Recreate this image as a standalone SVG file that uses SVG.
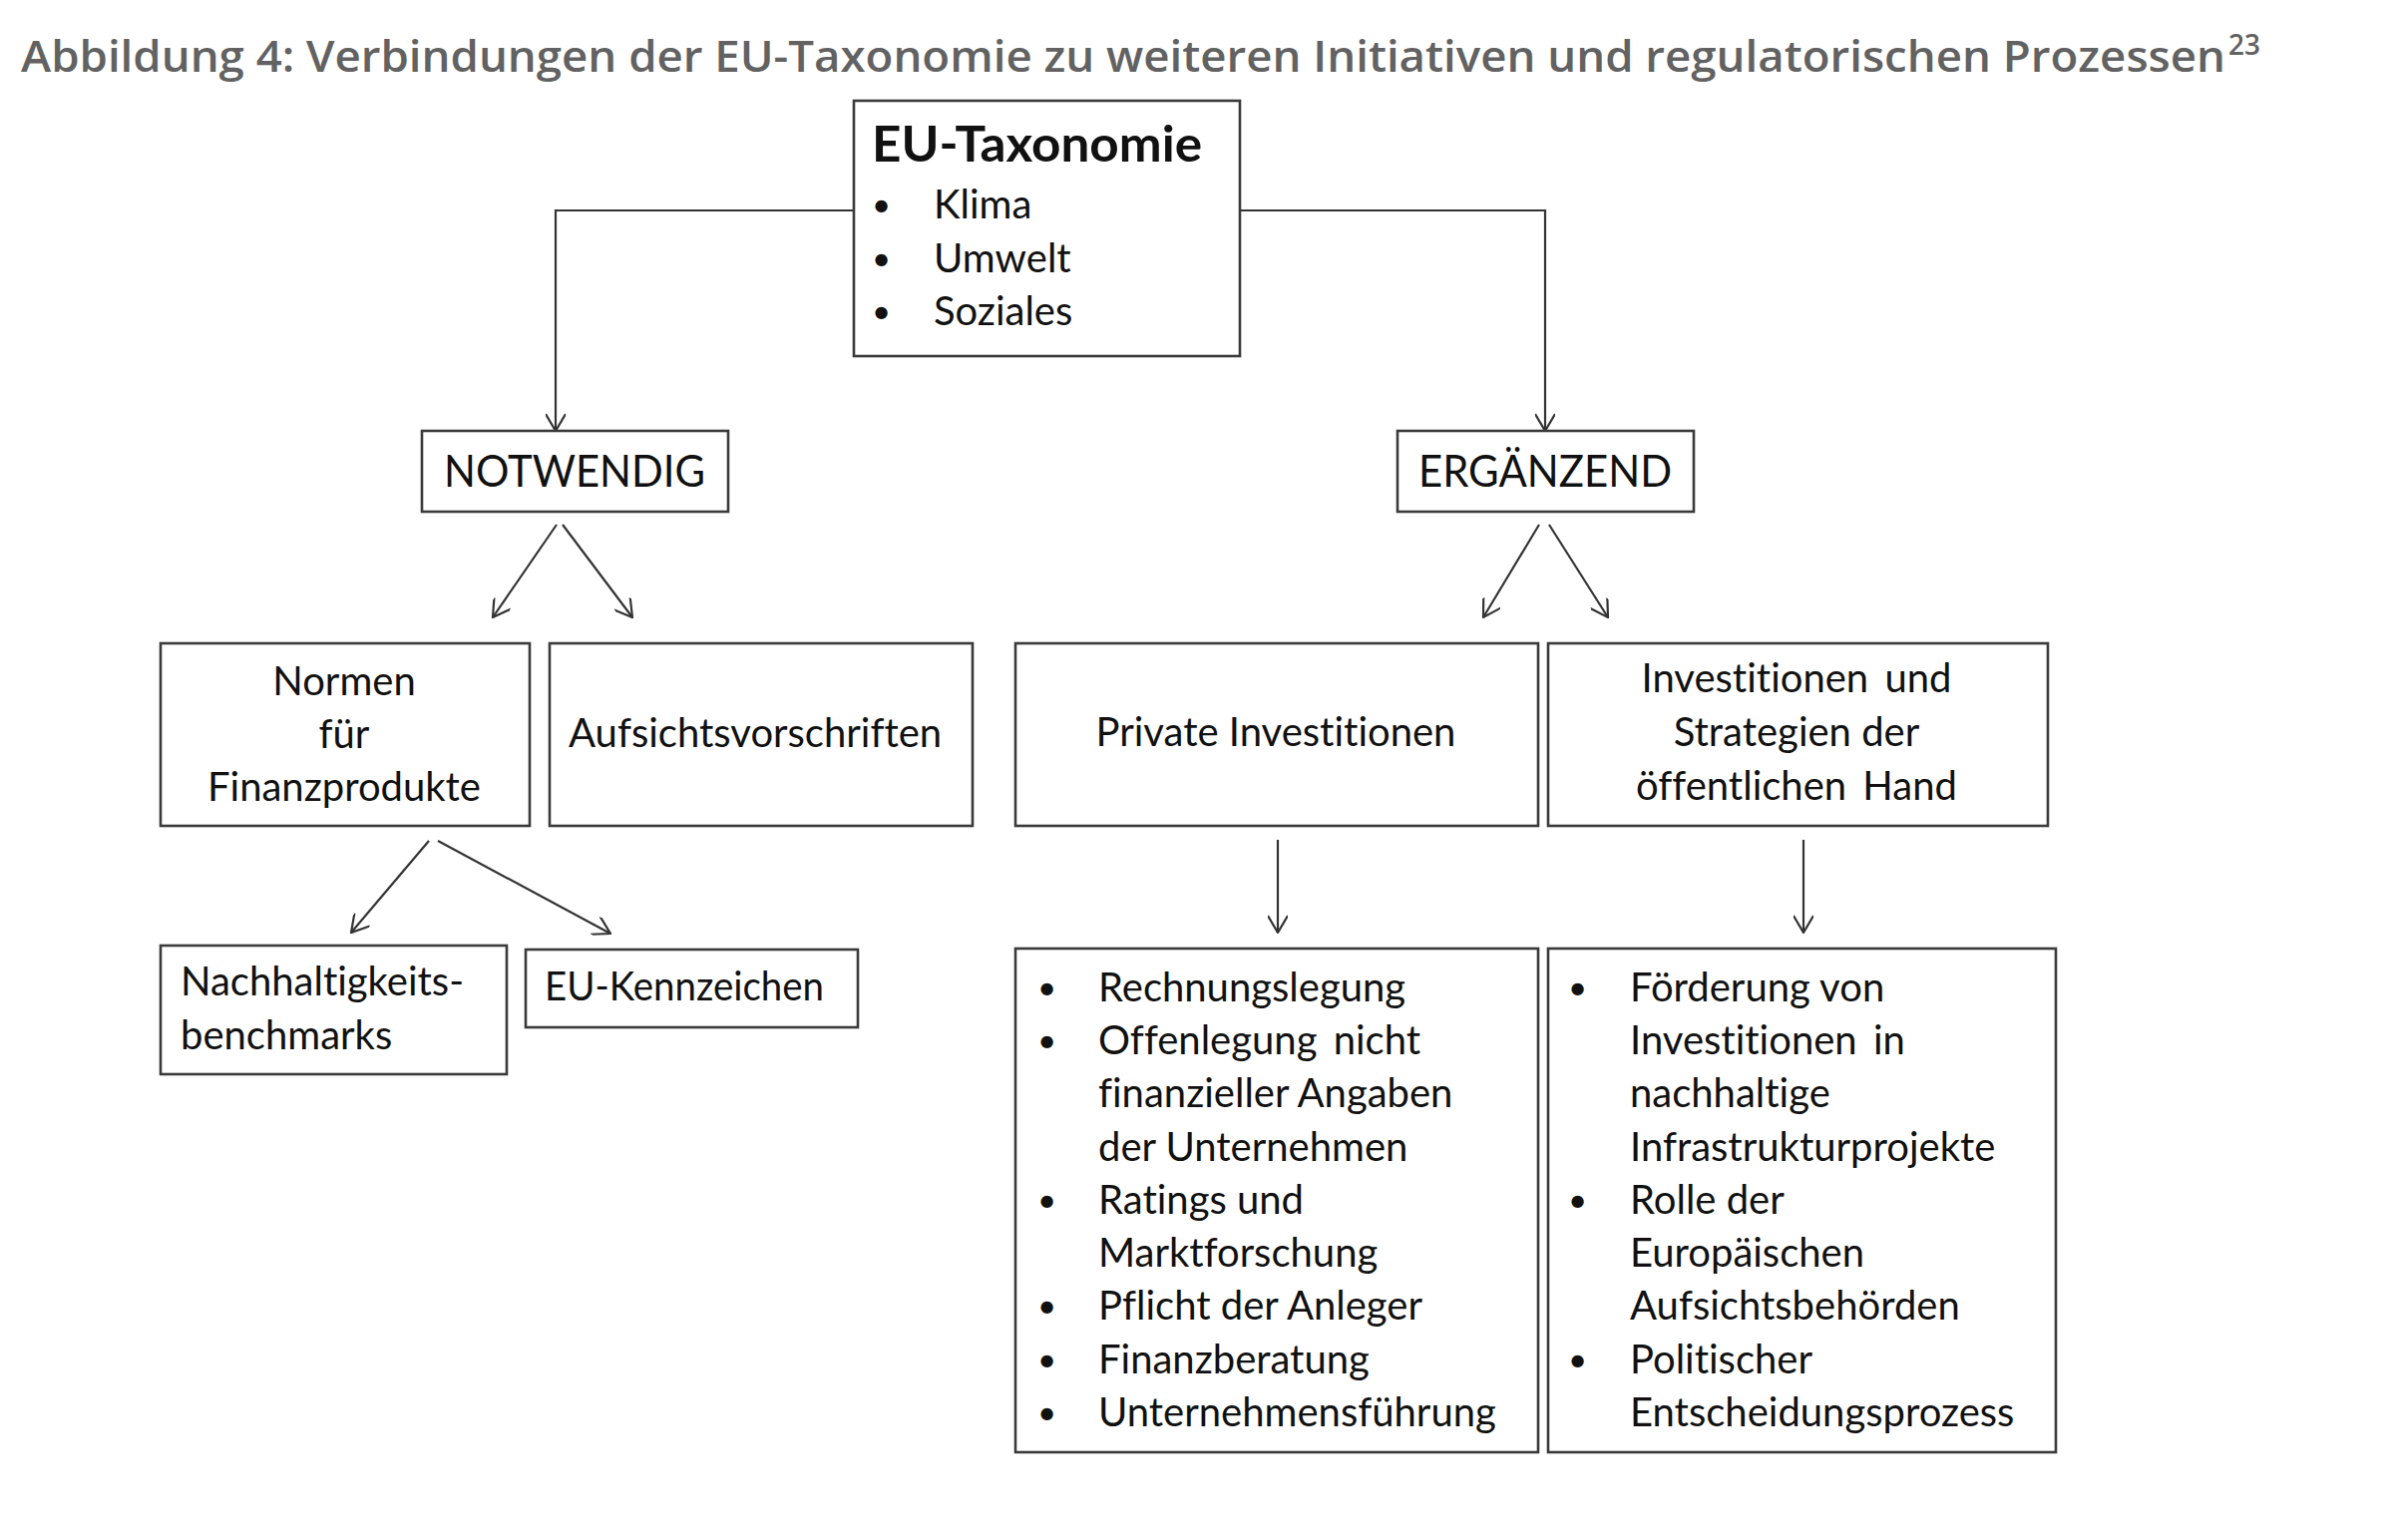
<svg xmlns="http://www.w3.org/2000/svg" width="2400" height="1544" viewBox="0 0 2400 1544">
<style>
.box{fill:#fff;stroke:#3a3a3a;stroke-width:2.6}
.t{font-family:Lato,"Open Sans","Liberation Sans",sans-serif;font-size:40px;fill:#111;font-variant-ligatures:none}
.b{font-family:Lato,"Open Sans","Liberation Sans",sans-serif;font-size:33px;fill:#111}
.c{text-anchor:middle}
.cap{font-size:45px}
.conn{fill:none;stroke:#333;stroke-width:2.2}
.title{font-family:"Open Sans","Liberation Sans",sans-serif;font-weight:600;font-size:44px;fill:#626262}
</style>
<defs>
<marker id="arr" viewBox="0 0 20 20" refX="19" refY="10" markerWidth="20" markerHeight="20" markerUnits="userSpaceOnUse" orient="auto">
<path d="M2,0 L19,10 L2,20" fill="none" stroke="#333" stroke-width="2.2"/>
</marker>
</defs>
<rect width="2400" height="1544" fill="#fff"/>
<text class="title" x="21" y="72" textLength="2210" lengthAdjust="spacingAndGlyphs">Abbildung 4: Verbindungen der EU-Taxonomie zu weiteren Initiativen und regulatorischen Prozessen</text>
<text class="title" x="2234" y="55" style="font-size:28px">23</text>

<g id="connectors">
<polyline class="conn" points="856,211 557,211 557,432" marker-end="url(#arr)"/>
<polyline class="conn" points="1243,211 1549,211 1549,432" marker-end="url(#arr)"/>
<line class="conn" x1="558" y1="526" x2="494" y2="619" marker-end="url(#arr)"/>
<line class="conn" x1="564" y1="526" x2="634" y2="619" marker-end="url(#arr)"/>
<line class="conn" x1="1543" y1="526" x2="1487" y2="619" marker-end="url(#arr)"/>
<line class="conn" x1="1553" y1="526" x2="1612" y2="619" marker-end="url(#arr)"/>
<line class="conn" x1="430" y1="843" x2="352" y2="935" marker-end="url(#arr)"/>
<line class="conn" x1="439" y1="843" x2="612" y2="936" marker-end="url(#arr)"/>
<line class="conn" x1="1281" y1="842" x2="1281" y2="935" marker-end="url(#arr)"/>
<line class="conn" x1="1808" y1="842" x2="1808" y2="935" marker-end="url(#arr)"/>
</g>

<g id="eu-taxonomie">
<rect class="box" x="856" y="101" width="387" height="256"/>
<text class="t" x="874" y="162" font-weight="700" style="font-size:50px" textLength="331" lengthAdjust="spacingAndGlyphs">EU-Taxonomie</text>
<text class="b" x="874" y="217">•</text><text class="t" x="936" y="219">Klima</text>
<text class="b" x="874" y="271">•</text><text class="t" x="936" y="273">Umwelt</text>
<text class="b" x="874" y="324">•</text><text class="t" x="936" y="326">Soziales</text>
</g>

<g id="notwendig">
<rect class="box" x="423" y="432" width="307" height="81"/>
<text class="t cap c" x="576" y="488" textLength="262" lengthAdjust="spacingAndGlyphs">NOTWENDIG</text>
</g>

<g id="ergaenzend">
<rect class="box" x="1401" y="432" width="297" height="81"/>
<text class="t cap c" x="1549" y="488" textLength="254" lengthAdjust="spacingAndGlyphs">ERGÄNZEND</text>
</g>

<g id="normen">
<rect class="box" x="161" y="645" width="370" height="183"/>
<text class="t c" x="345" y="697">Normen</text>
<text class="t c" x="345" y="750">für</text>
<text class="t c" x="345" y="803">Finanzprodukte</text>
</g>

<g id="aufsicht">
<rect class="box" x="551" y="645" width="424" height="183"/>
<text class="t" x="570" y="749">Aufsichtsvorschriften</text>
</g>

<g id="private">
<rect class="box" x="1018" y="645" width="524" height="183"/>
<text class="t c" x="1279" y="748">Private Investitionen</text>
</g>

<g id="oeffentlich">
<rect class="box" x="1552" y="645" width="501" height="183"/>
<text class="t c" x="1801" y="694" word-spacing="6">Investitionen und</text>
<text class="t c" x="1801" y="748">Strategien der</text>
<text class="t c" x="1801" y="802" word-spacing="6">öffentlichen Hand</text>
</g>

<g id="benchmarks">
<rect class="box" x="161" y="948" width="347" height="129"/>
<text class="t" x="181" y="998">Nachhaltigkeits-</text>
<text class="t" x="181" y="1052">benchmarks</text>
</g>

<g id="kennzeichen">
<rect class="box" x="527" y="952" width="333" height="78"/>
<text class="t" x="546" y="1003" textLength="280" lengthAdjust="spacingAndGlyphs">EU-Kennzeichen</text>
</g>

<g id="liste-privat">
<rect class="box" x="1018" y="951" width="524" height="505"/>
<text class="b" x="1040" y="1002">•</text><text class="t" x="1101" y="1004">Rechnungslegung</text>
<text class="b" x="1040" y="1055">•</text><text class="t" x="1101" y="1057" word-spacing="6">Offenlegung nicht</text>
<text class="t" x="1101" y="1110">finanzieller Angaben</text>
<text class="t" x="1101" y="1164">der Unternehmen</text>
<text class="b" x="1040" y="1215">•</text><text class="t" x="1101" y="1217">Ratings und</text>
<text class="t" x="1101" y="1270">Marktforschung</text>
<text class="b" x="1040" y="1321">•</text><text class="t" x="1101" y="1323">Pflicht der Anleger</text>
<text class="b" x="1040" y="1375">•</text><text class="t" x="1101" y="1377">Finanzberatung</text>
<text class="b" x="1040" y="1428">•</text><text class="t" x="1101" y="1430">Unternehmensführung</text>
</g>

<g id="liste-oeffentlich">
<rect class="box" x="1552" y="951" width="509" height="505"/>
<text class="b" x="1572" y="1002">•</text><text class="t" x="1634" y="1004">Förderung von</text>
<text class="t" x="1634" y="1057" word-spacing="6">Investitionen in</text>
<text class="t" x="1634" y="1110">nachhaltige</text>
<text class="t" x="1634" y="1164">Infrastrukturprojekte</text>
<text class="b" x="1572" y="1215">•</text><text class="t" x="1634" y="1217">Rolle der</text>
<text class="t" x="1634" y="1270">Europäischen</text>
<text class="t" x="1634" y="1323">Aufsichtsbehörden</text>
<text class="b" x="1572" y="1375">•</text><text class="t" x="1634" y="1377">Politischer</text>
<text class="t" x="1634" y="1430">Entscheidungsprozess</text>
</g>
</svg>
